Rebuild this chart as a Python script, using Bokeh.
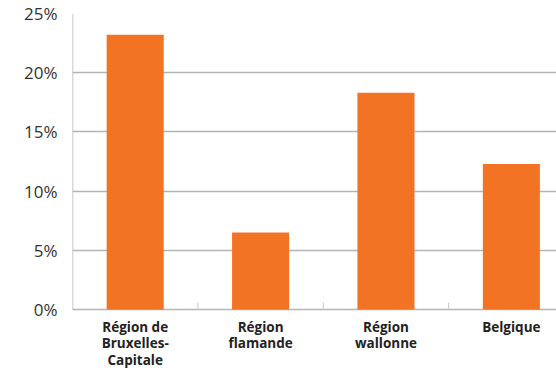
import math
from bokeh.plotting import figure
from bokeh.models import ColumnDataSource, FixedTicker, PrintfTickFormatter, Range1d
from bokeh.core.properties import value
from bokeh.embed import file_html
from bokeh.resources import INLINE

categories = ["Région de\nBruxelles-\nCapitale", "Région\nflamande", "Région\nwallonne", "Belgique"]
values = [23.2, 6.5, 18.3, 12.3]
y_ticks = [0, 5, 10, 15, 20, 25]

positions = [i + 0.5 for i in range(len(categories))]
boundaries = list(range(1, len(categories)))
source = ColumnDataSource(dict(x=positions, top=values, text=categories,
                               base=[y_ticks[0]] * len(categories)))

p = figure(width=556, height=368, output_backend="svg", toolbar_location=None,
           x_axis_type=None, title=None,
           x_range=Range1d(0, 3.86), y_range=Range1d(-4.98, 25),
           min_border_left=72, min_border_right=0, min_border_top=13, min_border_bottom=0)
p.outline_line_color = None
p.background_fill_color = "white"
p.border_fill_color = "white"

p.xgrid.visible = False
p.ygrid.ticker = FixedTicker(ticks=y_ticks)
p.ygrid.grid_line_color = "#b4b4b4"
p.ygrid.grid_line_width = 1.5

# left axis line spanning the value range only
p.segment(x0=[0], y0=[y_ticks[0]], x1=[0], y1=[y_ticks[-1]], line_color="#b4b4b4", line_width=1.5)
# small category separator ticks
p.ray(x=boundaries, y=[y_ticks[0]] * len(boundaries), length=7, length_units="screen",
      angle=math.pi / 2, line_color="#c8c8c8", line_width=1)

p.vbar(x="x", top="top", width=0.455, source=source, color="#F37325", line_color=None)

p.text(x="x", y="base", text="text", source=source, y_offset=8,
       text_align="center", text_baseline="top",
       text_font=value("Open Sans"), text_font_style="bold", text_font_size="13.5px",
       text_color="#222222", text_line_height=0.93)

yax = p.yaxis[0]
yax.ticker = FixedTicker(ticks=y_ticks)
yax.formatter = PrintfTickFormatter(format="%d%%")
yax.axis_line_color = None
yax.major_tick_line_color = None
yax.minor_tick_line_color = None
yax.major_label_text_font = "Open Sans"
yax.major_label_text_font_size = "17px"
yax.major_label_text_color = "#333333"
yax.major_label_standoff = 9

open("out.html", "w").write(file_html(p, INLINE))
